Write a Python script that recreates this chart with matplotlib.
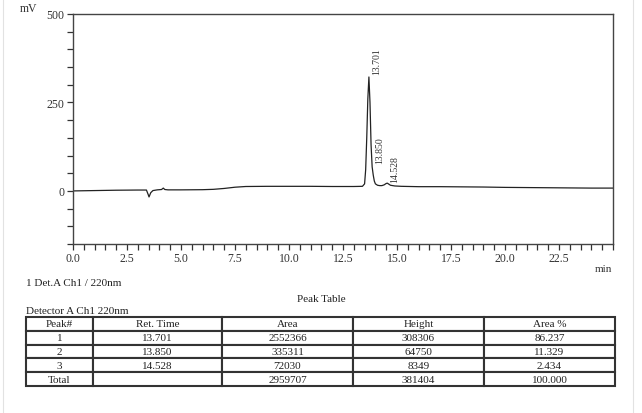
import matplotlib
matplotlib.use('Agg')
import matplotlib.pyplot as plt
from matplotlib.lines import Line2D
from matplotlib.ticker import MultipleLocator, FuncFormatter

plt.rcParams['font.family'] = ['Liberation Serif', 'DejaVu Serif']

# chromatogram trace (min, mV)
time_min = [0.0, 1.0, 2.0, 3.0, 3.4, 3.48, 3.52, 3.6, 3.7, 3.9, 4.1, 4.18, 4.25, 4.4,
            5.0, 6.0, 6.5, 7.0, 7.5, 8.0, 9.0, 10.0, 11.0, 12.0, 13.0, 13.4, 13.5,
            13.55, 13.6, 13.65, 13.7, 13.75, 13.8, 13.85, 13.9, 13.95, 14.0, 14.1,
            14.2, 14.3, 14.4, 14.5, 14.55, 14.6, 14.7, 14.9, 15.2, 16.0, 17.0, 18.0,
            19.0, 20.0, 21.0, 22.0, 23.0, 24.0, 25.0]
signal_mv = [0, 1, 2, 2.5, 2.5, -10, -17, -5, 1, 3, 4, 8, 4, 3,
             3, 3.5, 4.5, 7, 10.5, 12.5, 13, 13, 13, 12.5, 12.5, 13, 20,
             60, 150, 260, 322, 250, 130, 68, 45, 28, 20, 16,
             15, 15, 17, 21, 22, 20, 16, 14, 13, 12, 12, 11.5,
             11, 10, 9.5, 9, 8.5, 8, 8]

peak_rt = [13.701, 13.850, 14.528]
peak_label_y = [330, 78, 25]

table_cols = ['Peak#', 'Ret. Time', 'Area', 'Height', 'Area %']
table_rows = [['1', '13.701', '2552366', '308306', '86.237'],
              ['2', '13.850', '335311', '64750', '11.329'],
              ['3', '14.528', '72030', '8349', '2.434'],
              ['Total', '', '2959707', '381404', '100.000']]
col_widths = [67, 129, 131, 131, 131]

fig = plt.figure(figsize=(6.42, 4.14), dpi=100)
ax = fig.add_axes([0.1137, 0.4082, 0.8411, 0.5556])

ax.plot(time_min, signal_mv, color='#222222', linewidth=0.9)
for rt, ly in zip(peak_rt, peak_label_y):
    ax.text(rt + 0.35, ly, f'{rt:.3f}', rotation=90, fontsize=7,
            ha='center', va='bottom', color='#333333')

ax.set_xlim(0, 25)
ax.set_ylim(-150, 500)
ax.xaxis.set_major_locator(MultipleLocator(2.5))
ax.xaxis.set_minor_locator(MultipleLocator(0.5))
ax.yaxis.set_major_locator(MultipleLocator(250))
ax.yaxis.set_minor_locator(MultipleLocator(50))
ax.xaxis.set_major_formatter(FuncFormatter(lambda v, p: '' if v > 24 else f'{v:.1f}'))
ax.tick_params(which='both', direction='out', length=4, width=0.9,
               labelsize=8.5, colors='#333333', pad=2)
for sp in ax.spines.values():
    sp.set_color('#444444')
    sp.set_linewidth(1.0)

fig.text(29 / 642, 1 - 9 / 414, 'mV', fontsize=8.5, ha='center', va='center', color='#333333')
fig.text(603 / 642, 1 - 269 / 414, 'min', fontsize=8, ha='center', va='center', color='#333333')

fig.text(26 / 642, 1 - 283 / 414, '1 Det.A Ch1 / 220nm', fontsize=8, va='center', color='#222222')
fig.text(321 / 642, 1 - 300 / 414, 'Peak Table', fontsize=8, ha='center', va='center', color='#222222')
fig.text(26 / 642, 1 - 312 / 414, 'Detector A Ch1 220nm', fontsize=8, va='center', color='#222222')

tax = fig.add_axes([26 / 642, 1 - 387.3 / 414, 589 / 642, 69.6 / 414])
tax.axis('off')
total_w = sum(col_widths)
tbl = tax.table(cellText=table_rows, colLabels=table_cols, cellLoc='center',
                colWidths=[w / total_w for w in col_widths], bbox=[0, 0, 1, 1])
tbl.auto_set_font_size(False)
tbl.set_fontsize(8)
for cell in tbl.get_celld().values():
    cell.set_edgecolor('#333333')
    cell.set_linewidth(1.5)
    cell.get_text().set_color('#222222')

# faint page edges
fig.add_artist(Line2D([3 / 642, 3 / 642], [0.0, 1.0], color='#e2e2e2', linewidth=0.8))
fig.add_artist(Line2D([633 / 642, 633 / 642], [0.0, 1.0], color='#e2e2e2', linewidth=0.8))

fig.savefig('out.png', dpi=100)
